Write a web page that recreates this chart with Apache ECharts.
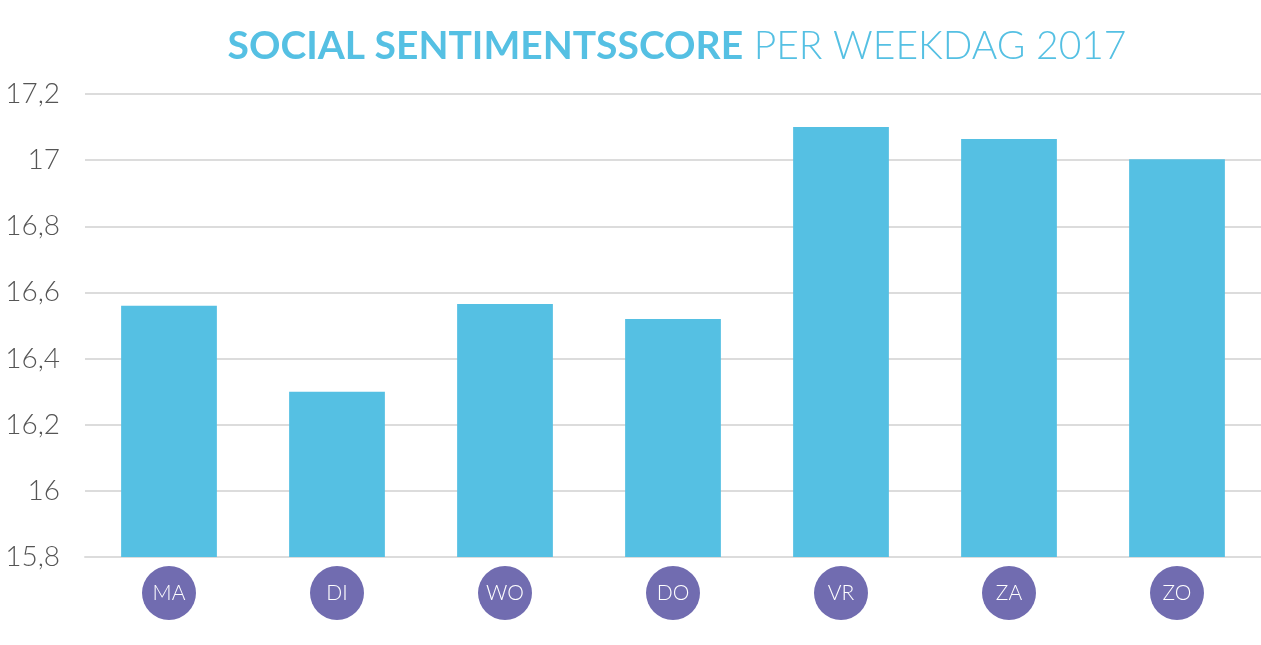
<!DOCTYPE html>
<html><head><meta charset="utf-8">
<script src="https://cdn.jsdelivr.net/npm/echarts@6/dist/echarts.min.js"></script>
<style>html,body{margin:0;padding:0;background:#fff}#c{width:1261px;height:645px}</style>
</head><body><div id="c"></div>
<script>
const categories = ['MA','DI','WO','DO','VR','ZA','ZO'];
const scores = [16.56, 16.30, 16.565, 16.52, 17.10, 17.064, 17.003];
const titleBold = 'SOCIAL SENTIMENTSSCORE';
const titleLight = ' PER WEEKDAG 2017';

const chart = echarts.init(document.getElementById('c'));
chart.setOption({
  animation: false,
  title: {
    text: '{b|' + titleBold + '}{l|' + titleLight + '}',
    left: 672, textAlign: 'center', top: 22,
    textStyle: {
      rich: {
        b: {fontFamily: 'Lato', fontWeight: 'bold', fontSize: 39, color: '#55c0e3'},
        l: {fontFamily: 'Lato', fontWeight: 300, fontSize: 39, color: '#55c0e3'}
      }
    }
  },
  grid: {left: 85, right: 0, top: 94, bottom: 88, containLabel: false},
  xAxis: {
    type: 'category', data: categories,
    axisLine: {show: true, lineStyle: {color: '#dcdcdc', width: 2}},
    axisTick: {show: false},
    axisLabel: {
      margin: 9,
      formatter: v => '{c|' + v + '}',
      rich: {
        c: {backgroundColor: '#716cb0', width: 54, height: 54, borderRadius: 27,
            align: 'center', verticalAlign: 'middle', lineHeight: 54,
            color: '#fff', fontSize: 21, fontFamily: 'Lato', fontWeight: 300}
      }
    }
  },
  yAxis: {
    type: 'value', min: 15.8, max: 17.2, interval: 0.2,
    axisLine: {show: false}, axisTick: {show: false},
    splitLine: {lineStyle: {color: '#dcdcdc', width: 2}},
    axisLabel: {
      margin: 25, color: '#555', fontSize: 28, fontFamily: 'Lato', fontWeight: 300,
      formatter: v => { let s = (+v).toFixed(1); if (s.endsWith('.0')) s = s.slice(0, -2); return s.replace('.', ','); }
    }
  },
  series: [{
    type: 'bar', data: scores, barWidth: '57%',
    itemStyle: {color: '#55c0e3'}
  }]
});
</script></body></html>
